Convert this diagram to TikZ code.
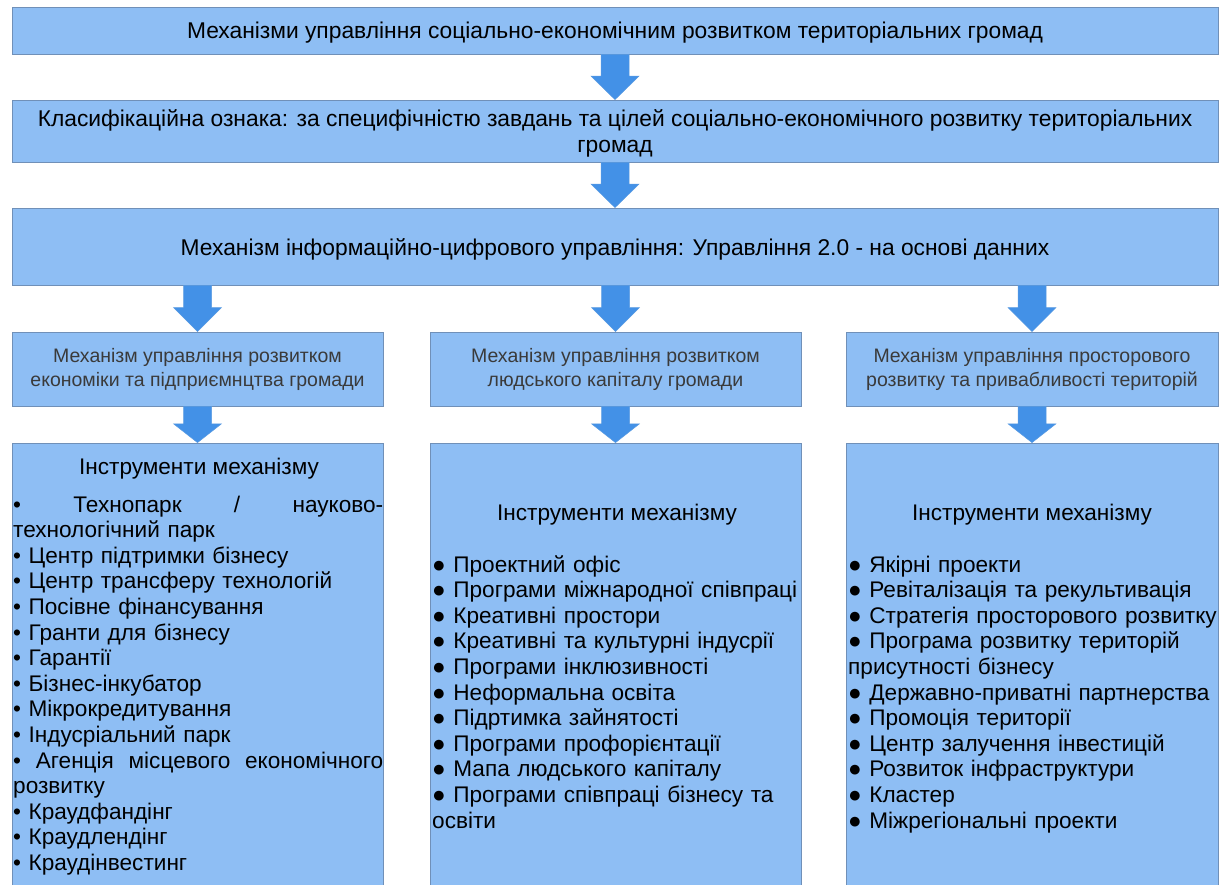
\documentclass[tikz,border=0pt]{standalone}
\usepackage{fontspec}
\setmainfont{Liberation Sans}
\usetikzlibrary{calc}
\definecolor{boxfill}{HTML}{8EBEF4}
\definecolor{boxline}{HTML}{7090B8}
\definecolor{arrfill}{HTML}{4391E7}
\definecolor{arrline}{HTML}{5A9BE2}
\definecolor{midtext}{HTML}{3A3A3A}
\newcommand\blockarr[2]{%
  \draw[draw=arrline, fill=arrfill, line width=0.5pt]
    let \p1=(#1.south), \p2=(#2.north) in
    (\x2-14pt,\y1) -- (\x2+14pt,\y1)
    -- (\x2+14pt,{\y1+0.48*((\y2)-(\y1))})
    -- (\x2+24pt,{\y1+0.48*((\y2)-(\y1))})
    -- (\x2,\y2)
    -- (\x2-24pt,{\y1+0.48*((\y2)-(\y1))})
    -- (\x2-14pt,{\y1+0.48*((\y2)-(\y1))}) -- cycle;}
\newcommand\fullline[1]{\leavevmode\hbox to 370pt{#1}}
\begin{document}
\begin{tikzpicture}[x=1pt,y=-1pt,
  box/.style={draw=boxline, fill=boxfill, line width=0.8pt, inner sep=0pt},
  toptext/.style={inner sep=0pt, align=center, font=\fontsize{22.8}{26}\selectfont},
  midtxt/.style={inner sep=0pt, align=center, text=midtext, font=\fontsize{19.5}{24.5}\selectfont},
  list/.style={inner sep=0pt, anchor=base west, align=left,
    font=\fontsize{22.6}{25.6}\selectfont},
  head/.style={inner sep=0pt, anchor=base, font=\fontsize{22.6}{25.6}\selectfont},
]
\clip (0,0) rectangle (1226,884);
\fill[white] (0,0) rectangle (1226,884);

\node[box, minimum width=1206pt, minimum height=47pt] (b1) at (615,30.5) {};
\node[box, minimum width=1206pt, minimum height=62pt] (b2) at (615,131) {};
\node[box, minimum width=1206pt, minimum height=77pt] (b3) at (615,246.5) {};
\node[toptext] (b1t) at ([yshift=-2.5pt]b1.center)
  {Механізми управління соціально-економічним розвитком територіальних громад};
\node[toptext] (b2t) at ([yshift=-2.5pt]b2.center)
  {Класифікаційна ознака: за специфічністю завдань та цілей соціально-економічного розвитку територіальних\\громад};
\node[toptext] (b3t) at ([yshift=-2.5pt]b3.center)
  {Механізм інформаційно-цифрового управління: Управління 2.0 - на основі данних};

\node[box, minimum width=371pt, minimum height=74pt] (m1) at (197.5,369) {};
\node[box, minimum width=371pt, minimum height=74pt] (m2) at (615.5,369) {};
\node[box, minimum width=372pt, minimum height=74pt] (m3) at (1032,369) {};
\node[midtxt] (m1t) at ([yshift=-0.5pt]m1.center)
  {Механізм управління розвитком\\економіки та підприємнцтва громади};
\node[midtxt] (m2t) at ([yshift=-0.5pt]m2.center)
  {Механізм управління розвитком\\людського капіталу громади};
\node[midtxt] (m3t) at ([yshift=-0.5pt]m3.center)
  {Механізм управління просторового\\розвитку та привабливості територій};

\node[box, minimum width=371pt, minimum height=457pt] (t1) at (197.5,671.5) {};
\node[box, minimum width=371pt, minimum height=457pt] (t2) at (615.5,671.5) {};
\node[box, minimum width=372pt, minimum height=457pt] (t3) at (1032,671.5) {};

\node[head] (h1) at (199,474) {Інструменти механізму};
\node[head] (h2) at (617,520) {Інструменти механізму};
\node[head] (h3) at (1032,520) {Інструменти механізму};

\node[list, text width=372pt] (l1) at (13,512) {%
\fullline{•\hfill Технопарк\hfill /\hfill науково-}\\
технологічний парк\\
• Центр підтримки бізнесу\\
• Центр трансферу технологій\\
• Посівне фінансування\\
• Гранти для бізнесу\\
• Гарантії\\
• Бізнес-інкубатор\\
• Мікрокредитування\\
• Індусріальний парк\\
\fullline{•\hfill Агенція\hfill місцевого\hfill економічного}\\
розвитку\\
• Краудфандінг\\
• Краудлендінг\\
• Краудінвестинг};

\node[list, text width=420pt] (l2) at (432,572) {%
● Проектний офіс\\
● Програми міжнародної співпраці\\
● Креативні простори\\
● Креативні та культурні індусрії\\
● Програми інклюзивності\\
● Неформальна освіта\\
● Підртимка зайнятості\\
● Програми профорієнтації\\
● Мапа людського капіталу\\
● Програми співпраці бізнесу та\\
освіти};

\node[list, text width=420pt] (l3) at (848,572) {%
● Якірні проекти\\
● Ревіталізація та рекультивація\\
● Стратегія просторового розвитку\\
● Програма розвитку територій\\
присутності бізнесу\\
● Державно-приватні партнерства\\
● Промоція території\\
● Центр залучення інвестицій\\
● Розвиток інфраструктури\\
● Кластер\\
● Міжрегіональні проекти};

\blockarr{b1}{b2}
\blockarr{b2}{b3}
\blockarr{b3}{m1}
\blockarr{b3}{m2}
\blockarr{b3}{m3}
\blockarr{m1}{t1}
\blockarr{m2}{t2}
\blockarr{m3}{t3}
\end{tikzpicture}
\end{document}
